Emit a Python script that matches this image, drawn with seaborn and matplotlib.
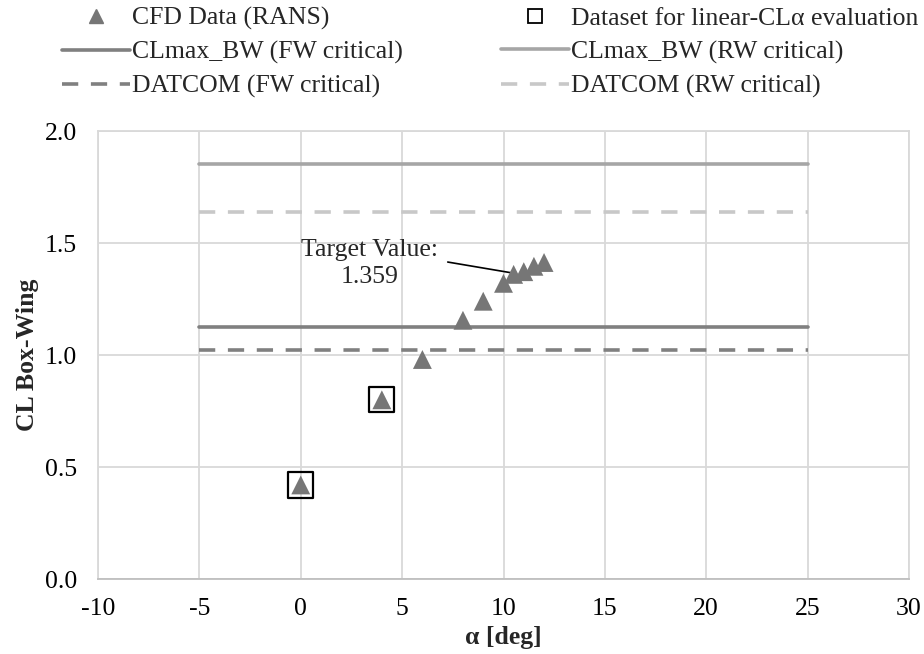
import matplotlib
matplotlib.use("Agg")
import matplotlib.pyplot as plt
import seaborn as sns
import pandas as pd
from matplotlib.lines import Line2D

# ---- data ----
alpha_cfd = [0, 4, 6, 8, 9, 10, 10.5, 11, 11.5, 12]
cl_cfd = [0.42, 0.80, 0.98, 1.155, 1.24, 1.32, 1.36, 1.372, 1.396, 1.413]
alpha_linear = [0, 4]
cl_linear = [0.42, 0.80]
alpha_range = [-5, 25]
clmax_fw = 1.126
clmax_rw = 1.854
datcom_fw = 1.022
datcom_rw = 1.637
target_alpha = 10.45
target_value = 1.359
x_ticks = [-10, -5, 0, 5, 10, 15, 20, 25, 30]
y_ticks = [0.0, 0.5, 1.0, 1.5, 2.0]

sns.set_theme(style="white")
plt.rcParams['font.family'] = ['Liberation Serif', 'DejaVu Serif']
plt.rcParams['axes.unicode_minus'] = False
FS = 18.5

fig = plt.figure(figsize=(9.24, 6.54), dpi=100)
ax = fig.add_axes([98/924, 1-579/654, (909-98)/924, (579-131)/654])

c_fw = "#808080"
c_rw = "#a6a6a6"
c_dfw = "#808080"
c_drw = "#c8c8c8"
c_tri = "#767676"

lw = 2.6
df_lines = pd.DataFrame({
    "alpha": alpha_range * 4,
    "cl": [clmax_fw]*2 + [clmax_rw]*2 + [datcom_fw]*2 + [datcom_rw]*2,
    "series": ["CLmax_BW (FW critical)"]*2 + ["CLmax_BW (RW critical)"]*2 +
              ["DATCOM (FW critical)"]*2 + ["DATCOM (RW critical)"]*2,
})
palette = {"CLmax_BW (FW critical)": c_fw, "CLmax_BW (RW critical)": c_rw,
           "DATCOM (FW critical)": c_dfw, "DATCOM (RW critical)": c_drw}
dashes = {"CLmax_BW (FW critical)": "", "CLmax_BW (RW critical)": "",
          "DATCOM (FW critical)": (4.5, 3.5), "DATCOM (RW critical)": (4.5, 3.5)}
sns.lineplot(data=df_lines, x="alpha", y="cl", hue="series", style="series",
             palette=palette, dashes=dashes, linewidth=lw, ax=ax, legend=False, zorder=2)

sns.scatterplot(x=alpha_cfd, y=cl_cfd, marker="^", s=185, color=c_tri,
                edgecolor="none", linewidth=0, ax=ax, zorder=4)
sns.scatterplot(x=alpha_linear, y=cl_linear, marker="s", s=330, facecolor="none",
                edgecolor="black", linewidth=1.6, ax=ax, zorder=3)

ax.set_xlim(-10, 30)
ax.set_ylim(0, 2.0)
ax.set_xticks(x_ticks)
ax.set_xticklabels([str(v) for v in x_ticks])
ax.set_yticks(y_ticks)
ax.set_yticklabels([f"{v:.1f}" for v in y_ticks])
ax.grid(True, color="#d9d9d9", linewidth=1.3)
ax.set_axisbelow(True)
for s in ax.spines.values():
    s.set_color("#d9d9d9")
    s.set_linewidth(1.3)
ax.spines["bottom"].set_color("#bfbfbf")
ax.tick_params(axis="both", length=0, labelsize=FS, colors="black")
ax.tick_params(axis="x", pad=14)
ax.tick_params(axis="y", pad=15)

ax.set_xlabel("α [deg]", fontsize=FS, fontweight="bold", labelpad=4)
ax.set_ylabel("CL Box-Wing", fontsize=FS, fontweight="bold", labelpad=4)

# annotation
ax.text(3.4, 1.41, f"Target Value:\n{target_value}", ha="center", va="center",
        fontsize=FS, linespacing=1.3)
ax.annotate("", xy=(target_alpha, 1.366), xytext=(7.25, 1.415),
            arrowprops=dict(arrowstyle="-", color="black", lw=1.2, shrinkA=0, shrinkB=0))

handles = [
    Line2D([], [], marker="^", color=c_tri, linestyle="none", markersize=10),
    Line2D([], [], color=c_fw, lw=lw),
    Line2D([], [], color=c_dfw, lw=lw, dashes=(4.5, 3.5)),
    Line2D([], [], marker="s", markerfacecolor="none", markeredgecolor="black",
           linestyle="none", markersize=10, markeredgewidth=1.3),
    Line2D([], [], color=c_rw, lw=lw),
    Line2D([], [], color=c_drw, lw=lw, dashes=(4.5, 3.5)),
]
labels = ["CFD Data (RANS)", "CLmax_BW (FW critical)", "DATCOM (FW critical)",
          "Dataset for linear-CLα evaluation", "CLmax_BW (RW critical)", "DATCOM (RW critical)"]
fig.legend(handles, labels, ncol=2, loc="upper left", bbox_to_anchor=(59/924, 1 - 4/654),
           frameon=False, fontsize=FS, handlelength=2.65, handletextpad=0.1,
           labelspacing=0.42, columnspacing=3.8, borderpad=0.1, borderaxespad=0)

fig.savefig("out.png", dpi=100)
